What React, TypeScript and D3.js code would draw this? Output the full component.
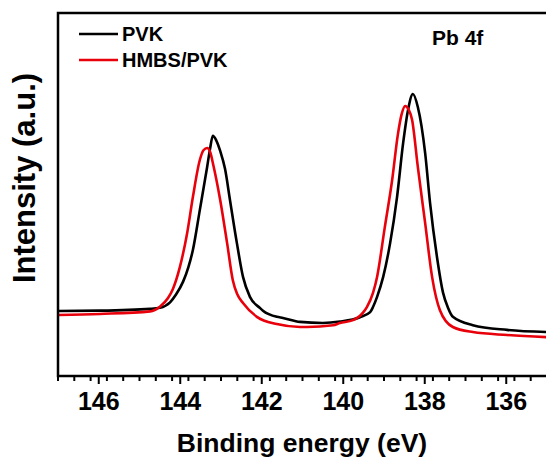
import React, { useEffect, useRef } from 'react';
import * as d3 from 'd3';

// binding energy (eV) and intensity (a.u.)
const pvkEnergy = [147.0, 145.97, 144.74, 144.5, 144.25, 144.1, 143.93, 143.8, 143.69, 143.52, 143.34, 143.27, 143.2, 143.12, 143.02, 142.9, 142.78, 142.61, 142.46, 142.29, 142.04, 141.97, 141.63, 141.48, 141.06, 140.5, 140.08, 139.59, 139.34, 139.27, 139.17, 139.02, 138.85, 138.68, 138.53, 138.41, 138.29, 138.17, 137.99, 137.87, 137.7, 137.55, 137.43, 137.31, 136.82, 135.98, 135.0];
const pvkIntensity = [17.9, 18.0, 18.5, 18.8, 20.3, 22.5, 26.0, 30.0, 34.7, 45.7, 57.6, 62.5, 66.2, 65.0, 62.0, 57.0, 48.5, 36.6, 27.3, 21.8, 18.7, 18.0, 16.3, 16.0, 14.9, 14.6, 15.0, 16.2, 17.6, 19.0, 21.8, 27.3, 36.6, 49.3, 64.2, 73.3, 77.7, 74.1, 61.4, 47.7, 32.8, 22.9, 18.8, 16.3, 14.0, 12.7, 12.1];

const hmbsEnergy = [147.0, 145.97, 144.74, 144.5, 144.3, 144.18, 144.01, 143.83, 143.69, 143.52, 143.43, 143.34, 143.26, 143.2, 143.02, 142.85, 142.71, 142.6, 142.46, 142.12, 141.63, 141.06, 140.89, 140.25, 140.08, 139.76, 139.66, 139.52, 139.42, 139.27, 139.17, 138.98, 138.8, 138.66, 138.57, 138.48, 138.4, 138.31, 138.17, 137.99, 137.82, 137.63, 137.31, 136.82, 135.98, 135.0];
const hmbsIntensity = [16.8, 17.1, 17.8, 19.1, 21.5, 24.0, 30.0, 39.4, 49.3, 59.5, 62.2, 62.8, 61.5, 58.7, 48.5, 36.6, 26.4, 22.5, 20.1, 16.3, 14.3, 13.5, 13.5, 14.0, 14.6, 15.4, 16.0, 17.4, 19.0, 22.9, 27.3, 41.0, 54.0, 66.5, 72.0, 74.4, 73.5, 70.5, 57.6, 42.1, 27.3, 18.2, 13.5, 12.1, 11.3, 10.7];

const seriesNames = ['PVK', 'HMBS/PVK'];
const seriesColors = ['#000000', '#e8000b'];
const xTicks = [146, 144, 142, 140, 138, 136];

const App = () => {
  const ref = useRef<SVGSVGElement>(null);

  useEffect(() => {
    const svg = d3.select(ref.current);
    svg.selectAll('*').remove();

    const left = 58, top = 13, bottom = 376, right = 547;
    const x = d3.scaleLinear().domain([147, 135]).range([left, right]);
    const y = d3.scaleLinear().domain([0, 100]).range([bottom, top]);
    const font = 'Arial, "Liberation Sans", sans-serif';

    const series = [
      pvkEnergy.map((e, i) => [e, pvkIntensity[i]]),
      hmbsEnergy.map((e, i) => [e, hmbsIntensity[i]]),
    ];

    const line = d3.line<number[]>()
      .x(d => x(d[0]))
      .y(d => y(d[1]))
      .curve(d3.curveMonotoneX);

    series.forEach((s, i) => {
      svg.append('path')
        .attr('d', line(s))
        .attr('fill', 'none')
        .attr('stroke', seriesColors[i])
        .attr('stroke-width', 2.6)
        .attr('stroke-linejoin', 'round');
    });

    // frame (right edge runs off the picture)
    svg.append('rect')
      .attr('x', left).attr('y', top)
      .attr('width', right - left + 4).attr('height', bottom - top)
      .attr('fill', 'none').attr('stroke', '#000').attr('stroke-width', 2.5);

    // x axis
    const minor = d3.range(147, 134.9, -0.4).filter(v => !xTicks.some(t => Math.abs(t - v) < 1e-6));
    svg.selectAll('line.minor').data(minor).enter().append('line')
      .attr('x1', d => x(d)).attr('x2', d => x(d))
      .attr('y1', bottom).attr('y2', bottom + 5)
      .attr('stroke', '#000').attr('stroke-width', 2);
    svg.selectAll('line.major').data(xTicks).enter().append('line')
      .attr('x1', d => x(d)).attr('x2', d => x(d))
      .attr('y1', bottom).attr('y2', bottom + 8)
      .attr('stroke', '#000').attr('stroke-width', 2);
    svg.selectAll('text.tick').data(xTicks).enter().append('text')
      .attr('x', d => x(d)).attr('y', 410)
      .attr('text-anchor', 'middle')
      .style('font', `bold 25px ${font}`)
      .text(d => d);

    svg.append('text')
      .attr('x', 302).attr('y', 452)
      .attr('text-anchor', 'middle')
      .style('font', `bold 26.5px ${font}`)
      .text('Binding energy (eV)');

    svg.append('text')
      .attr('transform', 'translate(35,178) rotate(-90)')
      .attr('text-anchor', 'middle')
      .style('font', `bold 31px ${font}`)
      .text('Intensity (a.u.)');

    // legend
    seriesNames.forEach((name, i) => {
      const ly = 34 + i * 26;
      svg.append('line')
        .attr('x1', 79).attr('x2', 118).attr('y1', ly).attr('y2', ly)
        .attr('stroke', seriesColors[i]).attr('stroke-width', 2.6);
      svg.append('text')
        .attr('x', 122).attr('y', ly + 6.5)
        .style('font', `bold 20px ${font}`)
        .text(name);
    });

    svg.append('text')
      .attr('x', 432).attr('y', 45)
      .style('font', `bold 21px ${font}`)
      .text('Pb 4f');
  }, []);

  return (
    <svg ref={ref} width={546} height={459}
      style={{ position: 'absolute', left: 0, top: 0, background: '#fff' }} />
  );
};

export default App;
